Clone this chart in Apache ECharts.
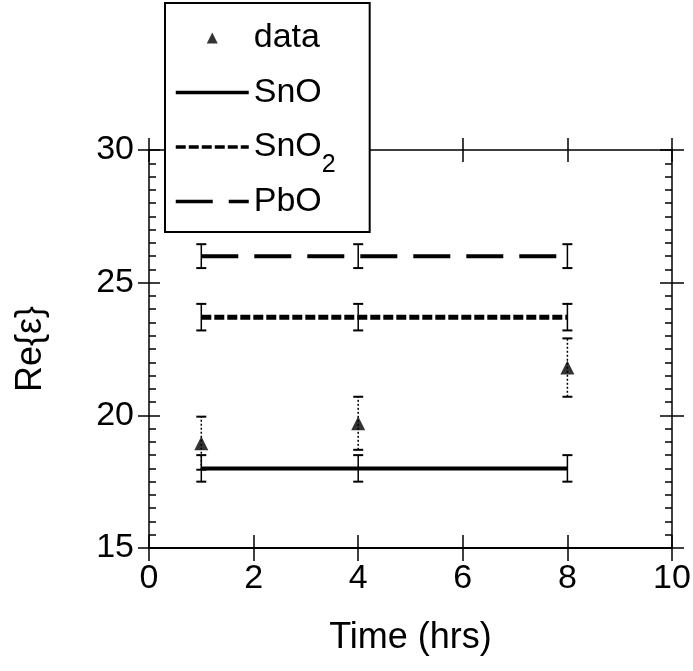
<!DOCTYPE html>
<html><head><meta charset="utf-8">
<script src="https://cdn.jsdelivr.net/npm/echarts@6/dist/echarts.min.js"></script>
<style>html,body{margin:0;padding:0;background:#fff}#c{width:693px;height:671px}</style>
</head><body><div id="c"></div>
<script>
// ---- data ----
const times = [1, 4, 8];
const dataValues = [18.95, 19.7, 21.8];
const dataErrors = [1.0, 1.0, 1.1];
const snoValues = [18.0, 18.0, 18.0];
const snoErrors = [0.5, 0.5, 0.5];
const sno2Values = [23.7, 23.7, 23.7];
const sno2Errors = [0.5, 0.5, 0.5];
const pboValues = [26.0, 26.0, 26.0];
const pboErrors = [0.45, 0.45, 0.45];
const xTicks = [0, 2, 4, 6, 8, 10];
const yTicks = [15, 20, 25, 30];
const legendNames = ['data', 'SnO', 'SnO2', 'PbO'];

const FONT = '"Liberation Sans", Arial, sans-serif';
const xMin = xTicks[0], xMax = xTicks[xTicks.length - 1], xInt = xTicks[1] - xTicks[0];
const yMin = yTicks[0], yMax = yTicks[yTicks.length - 1], yInt = yTicks[1] - yTicks[0];

function xAx(pos, inside, main, len) {
  return {
    type: 'value', position: pos, min: xMin, max: xMax, interval: xInt,
    axisLine: { show: inside, onZero: false, lineStyle: { color: '#000', width: pos === 'bottom' ? 2 : 1.5 } },
    axisTick: { show: true, inside: inside, length: len, lineStyle: { color: '#000', width: 1.5 } },
    axisLabel: { show: main, margin: 14, fontSize: 34, color: '#000', fontFamily: FONT },
    splitLine: { show: false },
    name: main ? 'Time (hrs)' : '', nameLocation: 'middle', nameGap: 72,
    nameTextStyle: { fontSize: 36, color: '#000', fontFamily: FONT }
  };
}
function yAx(pos, inside, main, len) {
  return {
    type: 'value', position: pos, min: yMin, max: yMax, interval: yInt,
    axisLine: { show: inside, onZero: false, lineStyle: { color: '#000', width: 1.5 } },
    axisTick: { show: true, inside: inside, length: len, lineStyle: { color: '#000', width: 1.5 } },
    minorTick: { show: inside, splitNumber: 10, length: 7, lineStyle: { color: '#000', width: 1.5 } },
    axisLabel: { show: main, margin: 15, fontSize: 34, color: '#000', fontFamily: FONT },
    splitLine: { show: false }, minorSplitLine: { show: false },
    name: main ? 'Re{ε}' : '', nameLocation: 'middle', nameGap: 100,
    nameTextStyle: { fontSize: 36, color: '#000', fontFamily: FONT }
  };
}

function errorBars(name, vals, errs, dotted) {
  return {
    type: 'custom', name: name, xAxisIndex: 0, yAxisIndex: 0, silent: true, z: 3,
    data: times.map((t, i) => [t, vals[i] - errs[i], vals[i] + errs[i]]),
    encode: { x: 0, y: [1, 2] },
    renderItem: function (params, api) {
      const lo = api.coord([api.value(0), api.value(1)]);
      const hi = api.coord([api.value(0), api.value(2)]);
      const hw = 5;
      const cap = { stroke: '#000', lineWidth: 2 };
      return {
        type: 'group', children: [
          { type: 'line', shape: { x1: lo[0], y1: lo[1], x2: hi[0], y2: hi[1] },
            style: dotted ? { stroke: '#000', lineWidth: 1.5, lineDash: [2, 2] } : { stroke: '#000', lineWidth: 1.5 } },
          { type: 'line', shape: { x1: lo[0] - hw, y1: lo[1], x2: lo[0] + hw, y2: lo[1] }, style: cap },
          { type: 'line', shape: { x1: hi[0] - hw, y1: hi[1], x2: hi[0] + hw, y2: hi[1] }, style: cap }
        ]
      };
    }
  };
}

const hiddenSym = { color: 'rgba(0,0,0,0)', borderColor: 'rgba(0,0,0,0)', borderWidth: 0, opacity: 0 };
const subStyle = { fontFamily: FONT, fontSize: 25, color: '#000', padding: [18, 0, -18, 0] };

const chart = echarts.init(document.getElementById('c'), null, { renderer: 'canvas' });
chart.setOption({
  animation: false,
  backgroundColor: '#fff',
  grid: { left: 149, right: 21, top: 150, bottom: 123, outerBoundsMode: 'none' },
  xAxis: [xAx('bottom', true, true, 13), xAx('bottom', false, false, 13), xAx('top', true, false, 12), xAx('top', false, false, 12)],
  yAxis: [yAx('left', true, true, 11), yAx('left', false, false, 11), yAx('right', true, false, 12), yAx('right', false, false, 12)],
  legend: {
    orient: 'vertical', left: 165, top: 3,
    data: [
      { name: legendNames[0], icon: 'path://M5,0L10,10L0,10Z' },
      { name: legendNames[1], itemStyle: hiddenSym },
      { name: legendNames[2], itemStyle: hiddenSym },
      { name: legendNames[3], itemStyle: hiddenSym }
    ],
    symbolKeepAspect: true,
    itemWidth: 73, itemHeight: 11, itemGap: 4, itemTextGap: 7,
    padding: [15, 34, 0, 9],
    borderColor: '#000', borderWidth: 2, borderRadius: 0, backgroundColor: '#fff',
    selectedMode: false,
    lineStyle: { width: 3.5 },
    formatter: n => n === 'SnO2' ? 'SnO{sub|2}' : n + '{pad|2}',
    textStyle: {
      fontFamily: FONT, fontSize: 34, color: '#000', lineHeight: 40,
      rich: { sub: subStyle, pad: Object.assign({}, subStyle, { color: 'rgba(0,0,0,0)' }) }
    }
  },
  series: [
    errorBars('SnO err', snoValues, snoErrors, false),
    errorBars('SnO2 err', sno2Values, sno2Errors, false),
    errorBars('PbO err', pboValues, pboErrors, false),
    errorBars('data err', dataValues, dataErrors, true),
    { type: 'line', name: 'SnO', data: times.map((t, i) => [t, snoValues[i]]), symbol: 'none', z: 2,
      lineStyle: { color: '#000', width: 4, type: 'solid' }, itemStyle: { color: '#000' } },
    { type: 'line', name: 'SnO2', data: times.map((t, i) => [t, sno2Values[i]]), symbol: 'none', z: 2,
      lineStyle: { color: '#000', width: 5, type: [10, 3] }, itemStyle: { color: '#000' } },
    { type: 'line', name: 'PbO', data: times.map((t, i) => [t, pboValues[i]]), symbol: 'none', z: 2,
      lineStyle: { color: '#000', width: 4, type: [37, 16] }, itemStyle: { color: '#000' } },
    { type: 'scatter', name: 'data', data: times.map((t, i) => [t, dataValues[i]]), symbol: 'triangle', symbolSize: 14, z: 4,
      itemStyle: { color: '#000' } }
  ]
});
</script></body></html>
